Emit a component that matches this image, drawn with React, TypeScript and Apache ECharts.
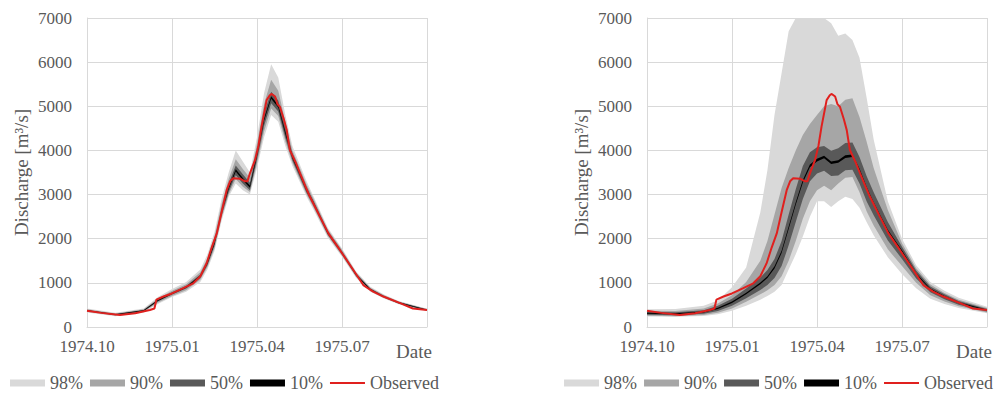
import React, { useEffect, useRef } from 'react';
import * as echarts from 'echarts';

// ---- data ----
const xTickLabels = ['1974.10', '1975.01', '1975.04', '1975.07', ''];
// months since 1974.10
const bandX = [0, 1, 2, 2.5, 3, 3.5, 4, 4.25, 4.5, 4.75, 5, 5.25, 5.5, 5.75, 6, 6.25, 6.5, 6.75, 7, 7.25, 7.5, 7.75, 8, 8.5, 9, 9.5, 10, 10.5, 11, 12];

// left panel bands
const L98u = [420, 320, 420, 680, 860, 1020, 1300, 1650, 2150, 2900, 3500, 4000, 3750, 3500, 4300, 5300, 5950, 5650, 4800, 4100, 3700, 3300, 2950, 2250, 1780, 1260, 910, 730, 590, 415];
const L98l = [330, 245, 330, 520, 680, 800, 1020, 1300, 1720, 2400, 2950, 3250, 3100, 3000, 3600, 4300, 4800, 4650, 4100, 3650, 3300, 2950, 2650, 2020, 1590, 1110, 800, 640, 515, 360];
const L90u = [400, 305, 400, 640, 820, 970, 1240, 1560, 2050, 2780, 3350, 3800, 3580, 3380, 4150, 5050, 5600, 5350, 4650, 4000, 3620, 3230, 2900, 2210, 1750, 1230, 890, 715, 580, 405];
const L90l = [345, 258, 345, 550, 705, 835, 1070, 1360, 1780, 2470, 3000, 3350, 3180, 3060, 3700, 4430, 4950, 4780, 4200, 3720, 3360, 3000, 2700, 2060, 1620, 1130, 815, 655, 525, 368];
const L50u = [385, 292, 385, 620, 785, 930, 1190, 1500, 1960, 2680, 3250, 3660, 3460, 3270, 4020, 4850, 5330, 5130, 4520, 3930, 3550, 3160, 2850, 2170, 1710, 1205, 870, 697, 565, 395];
const L50l = [356, 268, 356, 575, 735, 870, 1110, 1400, 1840, 2530, 3060, 3440, 3250, 3100, 3790, 4560, 5070, 4880, 4290, 3770, 3410, 3040, 2750, 2090, 1650, 1155, 830, 663, 535, 375];
const L10u = [378, 288, 378, 610, 770, 912, 1164, 1466, 1918, 2620, 3172, 3575, 3375, 3205, 3928, 4730, 5230, 5030, 4428, 3875, 3502, 3120, 2818, 2146, 1694, 1192, 860, 688, 558, 391];
const L10l = [362, 272, 362, 590, 750, 888, 1136, 1434, 1882, 2580, 3128, 3525, 3325, 3155, 3872, 4670, 5170, 4970, 4372, 3825, 3458, 3080, 2782, 2114, 1666, 1168, 840, 672, 542, 379];

// right panel bands
const R98u = [400, 410, 480, 600, 900, 1350, 2600, 3550, 4800, 5750, 6700, 7000, 7000, 7000, 7000, 7000, 6880, 6600, 6650, 6500, 6100, 5200, 4250, 2850, 2000, 1400, 1020, 820, 660, 460];
const R98l = [240, 230, 250, 290, 370, 480, 620, 700, 800, 950, 1300, 1650, 2050, 2500, 2850, 2850, 2720, 2850, 2950, 2900, 2700, 2380, 2080, 1580, 1200, 880, 640, 520, 430, 310];
const R90u = [370, 360, 420, 530, 720, 1020, 1500, 1950, 2550, 3150, 3600, 4000, 4350, 4600, 4800, 5000, 5050, 5000, 5150, 5180, 4760, 4200, 3600, 2650, 1900, 1330, 960, 770, 620, 430];
const R90l = [255, 245, 270, 320, 420, 570, 740, 830, 950, 1150, 1500, 1950, 2450, 2850, 3100, 3200, 3100, 3250, 3380, 3400, 3050, 2620, 2300, 1760, 1380, 1000, 720, 580, 470, 330];
const R50u = [345, 335, 380, 480, 640, 870, 1120, 1290, 1540, 1950, 2550, 3120, 3650, 3960, 4070, 4100, 3990, 4050, 4170, 4180, 3850, 3420, 3050, 2380, 1820, 1280, 920, 740, 590, 410];
const R50l = [275, 265, 300, 365, 480, 650, 840, 950, 1110, 1380, 1850, 2380, 2900, 3300, 3480, 3540, 3420, 3430, 3550, 3560, 3250, 2850, 2530, 1960, 1540, 1100, 790, 630, 505, 350];
const R10u = [322, 312, 352, 434, 575, 778, 1010, 1152, 1375, 1725, 2278, 2828, 3330, 3680, 3810, 3880, 3750, 3780, 3890, 3910, 3588, 3178, 2825, 2202, 1740, 1215, 872, 700, 560, 388];
const R10l = [298, 288, 328, 406, 545, 742, 970, 1108, 1325, 1675, 2222, 2772, 3270, 3620, 3750, 3820, 3690, 3720, 3830, 3850, 3532, 3122, 2775, 2158, 1700, 1185, 848, 680, 540, 372];

// observed discharge
const obsX = [0, 0.5, 1.16, 1.7, 2.22, 2.38, 2.45, 2.7, 3.0, 3.4, 3.75, 4.0, 4.22, 4.4, 4.58, 4.75, 4.93, 5.05, 5.16, 5.4, 5.58, 5.66, 5.75, 5.93, 6.05, 6.16, 6.34, 6.45, 6.52, 6.64, 6.72, 6.81, 6.95, 7.05, 7.16, 7.35, 7.52, 7.7, 7.87, 8.05, 8.22, 8.52, 8.93, 9.4, 9.75, 10.1, 10.46, 11.05, 11.5, 12];
const obsY = [370, 320, 270, 310, 385, 420, 620, 690, 760, 880, 990, 1150, 1440, 1800, 2120, 2600, 3100, 3300, 3370, 3360, 3300, 3300, 3480, 3780, 4100, 4540, 5140, 5250, 5280, 5220, 5050, 4990, 4700, 4460, 4010, 3750, 3480, 3200, 2950, 2720, 2500, 2120, 1740, 1290, 950, 800, 690, 540, 420, 385];

const bandNames = ['98%', '90%', '50%', '10%'];
const bandColors = ['#d9d9d9', '#a6a6a6', '#595959', '#000000'];
const leftBands = [[L98l, L98u], [L90l, L90u], [L50l, L50u], [L10l, L10u]];
const rightBands = [[R98l, R98u], [R90l, R90u], [R50l, R50u], [R10l, R10u]];

const FONT = 'Liberation Serif';
const TXT = '#595959';
const GRIDC = '#d9d9d9';
const RED = '#e0201e';

function bandSeries(panel: number, k: number, lo: number[], hi: number[]) {
  const color = bandColors[k];
  return {
    type: 'custom',
    name: bandNames[k],
    xAxisIndex: panel,
    yAxisIndex: panel,
    itemStyle: { color },
    silent: true,
    z: 2 + k * 0.01,
    data: bandX.map((x, i) => [x, lo[i], hi[i]]),
    encode: { x: 0, y: [1, 2] },
    renderItem: (params: any, api: any) => {
      if (params.dataIndex !== 0) return null;
      const pts: number[][] = [];
      for (let i = 0; i < bandX.length; i++) pts.push(api.coord([bandX[i], hi[i]]));
      for (let i = bandX.length - 1; i >= 0; i--) pts.push(api.coord([bandX[i], lo[i]]));
      return { type: 'polygon', shape: { points: pts }, style: { fill: color } };
    },
  };
}

export default function App() {
  const ref = useRef<HTMLDivElement>(null);
  useEffect(() => {
    if (!ref.current) return;
    const chart = echarts.init(ref.current, undefined, { renderer: 'svg' });
    const panels = [0, 1];
    const series: any[] = [];
    panels.forEach((p) => {
      const bands = p === 0 ? leftBands : rightBands;
      bands.forEach(([lo, hi], k) => series.push(bandSeries(p, k, lo, hi)));
      series.push({
        type: 'line',
        name: 'Observed',
        xAxisIndex: p,
        yAxisIndex: p,
        data: obsX.map((x, i) => [x, obsY[i]]),
        symbol: 'none',
        showSymbol: false,
        color: RED,
        itemStyle: { color: RED },
        lineStyle: { color: RED, width: 2 },
        z: 5,
        silent: true,
      });
    });
    chart.setOption({
      animation: false,
      grid: [
        { left: 87, top: 18, width: 340, height: 309 },
        { left: 647, top: 18, width: 340, height: 309 },
      ],
      xAxis: panels.map((p) => ({
        type: 'value',
        gridIndex: p,
        min: 0,
        max: 12,
        interval: 3,
        axisLine: { show: true, lineStyle: { color: GRIDC } },
        axisTick: { show: false },
        splitLine: { show: true, lineStyle: { color: GRIDC } },
        axisLabel: {
          formatter: (v: number) => xTickLabels[Math.round(v / 3)] ?? '',
          color: TXT,
          fontFamily: FONT,
          fontSize: 17,
          margin: 11,
        },
        name: 'Date',
        nameLocation: 'end',
        nameGap: -13,
        nameTextStyle: {
          color: TXT,
          fontFamily: FONT,
          fontSize: 19,
          align: 'center',
          verticalAlign: 'top',
          padding: [15, 0, 0, 0],
        },
      })),
      yAxis: panels.map((p) => ({
        type: 'value',
        gridIndex: p,
        min: 0,
        max: 7000,
        interval: 1000,
        axisLine: { show: true, lineStyle: { color: GRIDC } },
        axisTick: { show: false },
        splitLine: { show: true, lineStyle: { color: GRIDC } },
        axisLabel: {
          color: TXT,
          fontFamily: FONT,
          fontSize: 17,
          margin: 15,
          formatter: (v: number) => String(v),
        },
        name: 'Discharge [m³/s]',
        nameLocation: 'middle',
        nameGap: 56,
        nameTextStyle: { color: TXT, fontFamily: FONT, fontSize: 19 },
      })),
      legend: panels.map((p) => ({
        ...(p === 0 ? { left: 10 } : { right: 3 }),
        top: 374,
        padding: 0,
        itemWidth: 35,
        itemHeight: 7,
        itemGap: 7,
        selectedMode: false,
        textStyle: { color: TXT, fontFamily: FONT, fontSize: 18 },
        data: [
          { name: '98%', icon: 'rect' },
          { name: '90%', icon: 'rect' },
          { name: '50%', icon: 'rect' },
          { name: '10%', icon: 'rect' },
          { name: 'Observed', icon: 'path://M0,0H35V2H0Z' },
        ],
      })),
      series,
    });
    return () => chart.dispose();
  }, []);
  return (
    <div
      ref={ref}
      style={{ position: 'absolute', left: 0, top: 0, width: 996, height: 399, background: '#ffffff' }}
    />
  );
}
